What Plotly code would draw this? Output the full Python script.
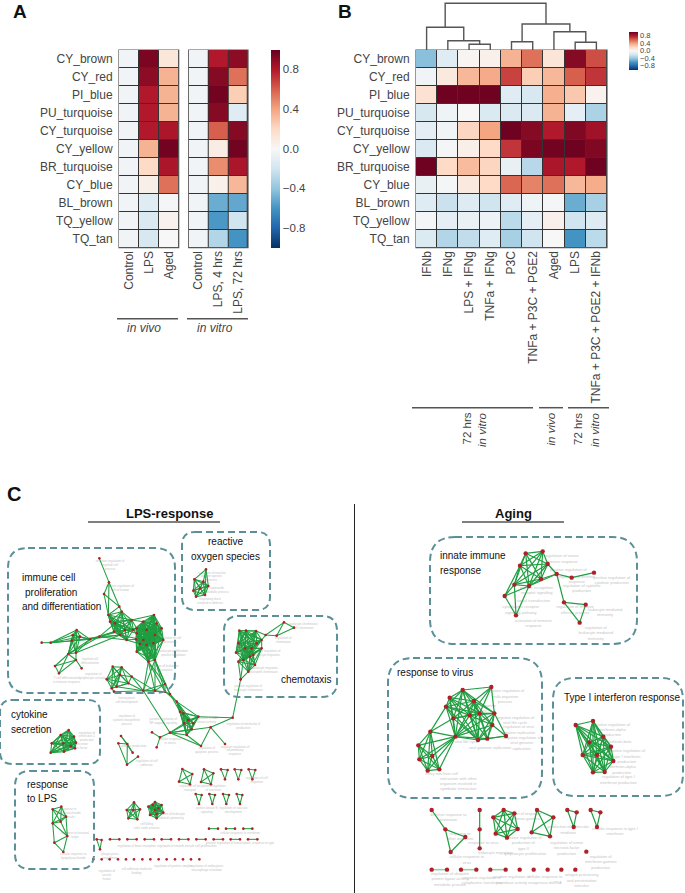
from itertools import combinations
import plotly.graph_objects as go

# ---------- heatmap data ----------
modules = ["CY_brown", "CY_red", "PI_blue", "PU_turquoise", "CY_turquoise", "CY_yellow",
           "BR_turquoise", "CY_blue", "BL_brown", "TQ_yellow", "TQ_tan"]
a_vivo_cols = ["Control", "LPS", "Aged"]
a_vivo = [[-.03, .95, .12], [-.03, .90, .35], [-.03, .80, .35], [-.03, .80, .35],
          [-.03, .80, .82], [-.03, .35, .97], [-.03, .20, .82], [-.03, .06, .55],
          [-.03, -.12, -.02], [-.03, -.15, .04], [-.03, -.17, 0]]
a_vitro_cols = ["Control", "LPS, 4 hrs", "LPS, 72 hrs"]
a_vitro = [[-.03, .80, .90], [-.03, .92, .55], [-.03, .97, .25], [-.03, .92, -.12],
           [-.03, .60, .92], [-.03, .08, .97], [-.03, .47, .82], [-.03, .05, .33],
           [-.03, -.50, -.52], [-.03, -.58, -.20], [-.03, -.30, -.60]]
b_cols = ["IFNb", "IFNg", "LPS + IFNg", "TNFa + IFNg", "P3C", "TNFa + P3C + PGE2", "Aged",
          "LPS", "TNFa + P3C + PGE2 + IFNb"]
b_vals = [[-.42, -.12, .02, .05, .35, .55, .13, .92, .65],
          [-.03, .10, .33, .38, .68, .25, .33, .60, .72],
          [.15, .98, .98, .98, -.12, -.17, .36, .27, .04],
          [-.17, -.05, 0, -.15, -.15, -.15, .35, -.10, -.32],
          [-.10, -.03, .22, .40, .98, .92, .80, .93, .85],
          [-.15, -.02, .06, .20, .72, .95, .97, .98, .93],
          [.98, .20, .32, .22, -.08, -.28, .82, .80, .98],
          [-.08, -.02, .10, .20, .58, .50, .55, .33, .37],
          [-.12, -.22, -.13, -.20, -.12, -.05, -.02, -.50, -.33],
          [-.02, -.10, -.07, -.06, -.27, -.10, .05, -.20, -.13],
          [-.14, -.30, -.25, -.12, -.33, -.20, 0, -.60, -.27]]
# dendrogram: children (leaf index, or 9+n for merge n) and merge height
dendro_a = [2, 1, 0, 4, 7, 6, 12, 11]
dendro_b = [3, 9, 10, 5, 8, 13, 14, 15]
dendro_h = [5.7, 9.3, 22.7, 8.3, 7.7, 18.3, 26.0, 46.7]

# ---------- network data (positions) ----------
lps_main = [(298,235),(327,307),(312,342),(358,380),(325,405),(365,395),(345,430),(342,455),(360,465),(375,450),
            (395,420),(380,480),(330,425),(400,450),(462,405),(430,425),(470,430),(410,445),(440,450),(465,465),
            (490,480),(410,460),(430,480),(460,490),(408,478),(420,492),(485,445),(440,495),(410,515),(445,545),
            (465,540),(125,488),(152,488),(230,450),(218,465),(215,482),(270,478),(298,470),(205,522),(228,518),
            (228,540),(165,558),(177,580),(245,565),(240,470),(430,632),(465,632),(495,612),(495,635),(510,642),
            (530,665),(540,695),(595,710),(552,730),(560,765),(575,748),(510,758),(480,772),(456,757),(470,802),
            (632,742),(603,798),(675,792),(698,713),(550,700),(565,720),(580,730),(338,560),(365,562),(320,598),
            (360,585),(385,610),(335,625),(350,620),(395,590),(342,635),(722,598)]
lps_main_cliques = [list(range(4, 14)), list(range(14, 31)), [33,34,35,36,38,39,44], [29,30,45,46,47,48],
                    [50,51,52,53,54,55,64,65,66], [67,68,69,70,71,72,73], [29,30,28,27,23,20]]
lps_main_edges = [(0,1),(1,2),(1,3),(2,3),(2,4),(3,4),(3,5),(1,4),(31,32),(32,33),(32,34),(32,35),(32,36),(32,44),(38,41),
                  (38,42),(40,41),(40,42),(41,42),(40,43),(39,40),(38,40),(36,37),(37,7),(37,8),(37,9),(37,11),(35,37),
                  (38,37),(39,8),(36,7),(36,8),(37,6),(9,17),(10,15),(11,24),(13,21),(8,22),(13,18),(10,17),(9,21),
                  (11,25),(13,15),(10,14),(29,48),(30,49),(48,49),(47,49),(49,50),(50,51),(48,50),(49,51),(45,56),(56,54),
                  (56,53),(56,55),(56,52),(56,57),(57,58),(57,59),(56,60),(54,61),(60,61),(60,62),(52,63),(60,63),
                  (61,56),(74,71),(74,46),(74,45),(71,45),(68,74),(70,74),(73,45),(75,45),(72,75),(63,76),(56,61)]
lps_chemo = [(852,427),(882,443),(830,467),(797,465),(768,453),(738,452),(718,452),(785,480),(770,490),(755,505),
             (735,505),(715,490),(708,518),(730,540),(750,530),(785,505),(765,555),(745,575),(715,545),(722,598),(760,525)]
lps_chemo_cliques = [[4,5,6,7,8,9,10,11,12,13,14],[9,10,13,14,15,16,17,18,20]]
lps_chemo_edges = [(0,1),(0,2),(1,2),(0,3),(2,3),(3,4),(3,7),(17,19),(18,19),(13,19),(16,17),(7,15)]
lps_ros = [(618,268),(583,298),(610,305),(625,318),(580,332),(615,345),(588,350),(600,325)]
lps_ros_cliques = [[1,2,3,4,5,6,7]]
lps_ros_edges = [(0,1),(0,2),(0,3),(0,5)]
# second crop row, offset by its own origin
lps_cyto = [(206,120),(182,135),(155,160),(222,140),(228,158),(190,160),(212,168),(152,188),(192,185),(225,175)]
lps_resp = [(158,358),(184,350),(198,380),(158,400),(182,395),(202,438),(163,458),(190,486)]
lps_resp_edges = [(2,5),(3,6),(4,5),(5,6),(6,7),(5,7),(3,5)]
lps_small = [(363,138),(355,160),(382,162),(398,188),(414,200),(381,224)]
lps_small_edges = [(0,2),(0,3),(1,2),(2,3),(1,5),(2,5),(4,5)]
lps_sq1 = [(547,237),(577,252),(537,275),(570,283)]
lps_sq2 = [(612,238),(640,250),(603,276),(633,283)]
lps_tri = [[(663,238),(683,240),(675,268)], [(704,238),(724,240),(715,268)], [(746,238),(766,240),(757,268)],
           [(587,312),(605,315),(597,342)], [(628,312),(645,315),(637,342)], [(669,312),(687,315),(679,342)],
           [(710,312),(727,315),(720,342)], [(290,448),(305,450),(300,478)]]
lps_penta = [(402,337),(420,358),(412,388),(385,385),(380,360),(400,360)]
lps_round = [(465,336),(485,345),(490,368),(470,385),(450,375),(445,350),(465,360),(475,355),(458,345),(470,372)]
lps_pair_a = [627,678,730]
lps_pair_a_y = 416
lps_pair_b = [330,382,434,485,537,589,641,692,744]
lps_pair_b_y = 448
lps_single = [280,305,329,354,378,402,427,451,476,500,525,549,573,598]
lps_single_y = 508

age_innate = [(512,190),(563,184),(495,227),(578,222),(558,267),(522,288),(478,284),(449,318),(483,376),(605,252),
              (650,263),(717,248),(627,337),(692,344),(674,398)]
age_innate_edges = [(7,6),(7,2),(7,5),(7,8),(6,8),(5,8),(3,9),(5,9),(4,9),(9,10),(10,11),(9,12),(12,13),(13,14),(12,14)]
age_innate_clique = [0,1,2,3,4,5,6]
age_virus = [(409,21),(323,30),(284,53),(357,63),(273,80),(418,100),(374,100),(344,106),(295,115),(412,135),
             (226,155),(301,170),(453,168),(369,180),(397,176),(190,196),(232,228),(193,238),(218,272),(253,268)]
age_virus_cliques = [[1,2,3,4,6,7,8,11,13],[0,1,3,5,6,7],[3,5,6,7,9,11,13,14],[5,9,12,13,14],[10,15,16,17,18,19,11]]
age_virus_edges = [(4,10),(8,10),(10,11),(2,8)]
age_type1 = [(662,135),(714,123),(703,187),(745,170),(768,200),(683,225),(726,225),(775,243),(714,277),(749,276)]
age_path = [(230,390),(271,448),(331,471),(287,516)]
age_path_edges = [(0,1),(1,2),(1,3),(2,3)]
age_line = [(374,390),(374,448),(374,505)]
age_hex = [(446,390),(478,400),(415,412),(488,447),(422,461),(456,473)]
age_sq = [(546,390),(595,412),(530,457),(585,469)]
age_tri = [[(637,390),(665,397),(656,441)], [(707,390),(736,397),(726,441)]]
age_pair = [230,318,406]
age_pair_w = [276,364,452]
age_single = [(694,515),(494,569),(536,569),(578,569),(619,569),(661,569)]
age_pair_y = 569

# grey term labels next to the nodes: x, y, text in each crop
grey_age_top = [(620,207,"regulation of innate<br>immune response"),(640,240,"positive regulation of"),
                (665,268,"regulation of defense<br>response"),(770,272,"positive regulation of<br>cytokine production"),
                (680,295,"regulation of cytokine<br>production"),(545,302,"pattern recognition<br>receptor signaling"),
                (535,332,"signal transduction"),(497,360,"cytoplasmic receptor<br>signaling pathway"),
                (535,400,"activation of immune<br>response"),(660,360,"regulation of immune<br>effector process"),
                (750,367,"leukocyte mediated<br>immunity"),(722,430,"regulation of<br>leukocyte mediated<br>immunity")]
grey_age_low = [(450,50,"negative regulation of<br>multi-organism<br>process"),(375,85,"defense response<br>to virus"),
                (480,122,"negative regulation of<br>viral life cycle"),(490,150,"regulation of viral<br>genome replication"),
                (500,190,"negative regulation of<br>viral genome<br>replication"),(405,205,"viral genome replication"),
                (335,185,"viral life cycle"),(260,283,"entry into host cell"),
                (310,312,"interaction with other<br>organism involved in<br>symbiotic interaction"),
                (770,150,"positive regulation of<br>interferon-alpha<br>production"),(790,185,"interferon-beta"),
                (815,230,"positive regulation of<br>type I interferon<br>production"),(800,270,"interferon-alpha<br>production"),
                (790,300,"regulation of type I<br>interferon production"),(280,412,"defense response to<br>protozoan"),
                (315,470,"response to<br>other organism"),(385,488,"response to virus"),(335,540,"cellular response to<br>virus"),
                (420,520,"leukocyte migration"),(500,410,"regulation of response<br>to interferon-gamma"),
                (635,505,"regulation of tumor<br>necrosis factor<br>production"),(505,490,"positive regulation of<br>production of<br>type II"),
                (510,523,"lymphocyte proliferation"),(780,455,"cellular response to type I<br>interferon"),
                (640,450,"production of molecular<br>mediator"),(737,547,"regulation of<br>interferon-gamma<br>production"),
                (285,598,"regulation of ubiquitin<br>protein ligase activity<br>metabolic process"),(380,602,"negative regulation of<br>cytoplasmic translation"),
                (470,600,"positive regulation of<br>peptidase activity"),(570,600,"cellular response to<br>exogenous dsRNA"),
                (680,602,"antigen processing<br>and presentation<br>stimulus")]
grey_lps = [(330,255,"negative regulation of<br>myeloid cell<br>process"),(360,325,"positive regulation of<br>cell activation"),
            (635,290,"regulation of reactive<br>oxygen species<br>process"),(650,330,"superoxide<br>metabolic process"),
            (630,365,"respiratory burst<br>involved in defense"),(910,440,"leukocyte chemotaxis<br>cell chemotaxis"),
            (850,480,"regulation of<br>chemotaxis"),(800,520,"positive regulation of<br>leukocyte migration"),
            (790,570,"granulocyte migration<br>neutrophil chemotaxis"),(745,625,"positive regulation of<br>leukocyte chemotaxis"),
            (270,545,"myeloid cell<br>differentiation"),(280,590,"regulation of<br>lymphocyte activation"),
            (200,600,"T cell differentiation<br>in immune response"),(510,480,"regulation of cell<br>activation"),
            (520,520,"leukocyte proliferation<br>positive regulation"),(490,565,"regulation of leukocyte<br>differentiation"),
            (380,660,"hemopoiesis<br>cell development"),(380,720,"regulation of<br>cytokine biosynthetic<br>process"),
            (490,725,"positive regulation of<br>NF-kappaB signaling"),(620,720,"regulation of MAP<br>kinase activity"),
            (730,740,"regulation of interleukin-6<br>production"),(510,785,"cellular response<br>to stress"),
            (620,810,"regulation of<br>apoptotic process"),(705,812,"negative regulation of<br>inflammatory<br>response"),
            (400,800,"cytokine production"),(440,850,"regulation of cell<br>adhesion"),(260,770,"regulation of<br>interleukin-1<br>production"),
            (220,800,"interleukin-6 secretion<br>tumor necrosis factor"),(205,1000,"response to<br>lipopolysaccharide<br>molecule"),
            (225,1065,"response to bacterial<br>origin"),(220,1130,"cellular response to<br>lipopolysaccharide"),
            (570,925,"regulation of ion<br>transport"),(640,925,"positive regulation<br>of secretion"),
            (770,900,"regulation of cell<br>migration"),(620,990,"protein kinase B<br>signaling"),
            (700,990,"regulation of vascular<br>development"),(510,1010,"regulation of leukocyte<br>mediated cytotoxicity"),
            (440,1040,"cell killing<br>nitric oxide process"),(720,1060,"cellular response to interferon"),
            (720,1090,"positive regulation of transcription, response to type"),(560,1098,"regulation of smooth muscle cell proliferation"),
            (410,1098,"regulation of bone resorption"),(330,1130,"phagocytosis<br>engulfment"),(320,1185,"regulation of<br>vesicle<br>fusion"),
            (520,1160,"regulation of protein complex"),(410,1175,"cell adhesion molecule<br>binding"),(620,1165,"regulation of endocytosis<br>macrophage activation")]

# dashed outlines and captions
box_x0 = [8, 182, 224, 0, 15, 430, 388, 553]
box_x1 = [175, 270, 337, 100, 94, 637, 542, 683]
box_y0 = [548, 532, 616, 700, 771, 537, 658, 678]
box_y1 = [693, 610, 697, 764, 869, 644, 798, 796]
box_r = [20, 13, 15, 12, 15, 25, 25, 22]
captions = [(20,577,"immune cell"),(23,592,"proliferation"),(20,606.5,"and differentiation"),
            (279,679,"chemotaxis"),(9,714,"cytokine"),(9,729,"secretion"),(25,784,"response"),(25,798,"to LPS"),
            (438,555,"innate immune"),(438,570,"response"),(395,672,"response to virus"),(562,697,"Type I interferon response")]

RDBU = [[0, "#053061"], [.1, "#2166ac"], [.2, "#4393c3"], [.3, "#92c5de"], [.4, "#d1e5f0"], [.5, "#f7f7f7"],
        [.6, "#fddbc7"], [.7, "#f4a582"], [.8, "#d6604d"], [.9, "#b2182b"], [1, "#67001f"]]
W, H = 685, 893
TXT = "#444444"
FONT = "Liberation Sans"
GREEN = "#1f9e41"
NODE = "#b0202a"
TEAL = "#5b9098"

def dx(a, b):
    return [a / W, b / W]
def dy(top, bot):
    return [1 - bot / H, 1 - top / H]

fig = go.Figure()
shapes = []
annotations = []

def heat(z, cols, n, x0, x1, showlabels, colorbar=None):
    suffix = "" if n == 1 else str(n)
    fig.add_trace(go.Heatmap(z=z, x=cols, y=modules, zmin=-1, zmax=1, colorscale=RDBU, xgap=1, ygap=1,
                             showscale=colorbar is not None, colorbar=colorbar, xaxis="x" + suffix, yaxis="y" + suffix,
                             hoverinfo="skip"))
    fig.layout["xaxis" + suffix] = dict(domain=dx(x0, x1), anchor="y" + suffix, tickangle=-90, ticks="",
                                        tickfont=dict(size=12, color=TXT, family=FONT),
                                        showgrid=False, zeroline=False, fixedrange=True, showline=False)
    fig.layout["yaxis" + suffix] = dict(domain=dy(50, 247.7), anchor="x" + suffix, autorange="reversed",
                                        showticklabels=showlabels, ticks="outside" if showlabels else "", ticklen=3,
                                        tickcolor="rgba(0,0,0,0)", tickfont=dict(size=12, color=TXT, family=FONT),
                                        showgrid=False, zeroline=False, fixedrange=True, showline=False)
    shapes.append(dict(type="rect", xref="x%s domain" % suffix, yref="y%s domain" % suffix, x0=0, x1=1, y0=0, y1=1,
                       layer="below", fillcolor="#333333", line=dict(color="#555555", width=1.2)))

heat(a_vivo, a_vivo_cols, 1, 119, 178.7, True)
heat(a_vitro, a_vitro_cols, 2, 188.7, 248, False,
     dict(x=271 / W, xanchor="left", xpad=0, y=1 - 148.5 / H, yanchor="middle", yref="paper", len=198, lenmode="pixels",
          ypad=0, thickness=9, outlinewidth=0, tickvals=[-.8, -.4, 0, .4, .8], ticks="", tickformat=".1f",
          tickfont=dict(size=11.5, color=TXT, family=FONT)))
heat(b_vals, b_cols, 3, 416, 607, True,
     dict(x=629 / W, xanchor="left", xpad=0, y=1 - 50.5 / H, yanchor="middle", yref="paper", len=38, lenmode="pixels",
          ypad=0, thickness=9, outlinewidth=0, tickvals=[-.8, -.4, 0, .4, .8], ticks="", tickformat=".1f",
          tickfont=dict(size=7.5, color=TXT, family=FONT)))

# dendrogram axis shares the column positions of panel B
pos = {i: (float(i), 0.0) for i in range(9)}
dxs, dys = [], []
for k, (a, b, h) in enumerate(zip(dendro_a, dendro_b, dendro_h)):
    xa, ha = pos[a]
    xb, hb = pos[b]
    dxs += [xa, xa, xb, xb, None]
    dys += [ha, h, h, hb, None]
    pos[9 + k] = ((xa + xb) / 2, h)
fig.add_trace(go.Scatter(x=dxs, y=dys, mode="lines", line=dict(color="#555555", width=1.4), xaxis="x4", yaxis="y4",
                         hoverinfo="skip", showlegend=False))
fig.layout.xaxis4 = dict(domain=dx(416, 607), range=[-.5, 8.5], visible=False, fixedrange=True, anchor="y4")
fig.layout.yaxis4 = dict(domain=dy(0, 50), range=[0, 50], visible=False, fixedrange=True, anchor="x4")

# page overlay axis
fig.layout.xaxis5 = dict(domain=[0, 1], range=[0, W], visible=False, fixedrange=True, anchor="y5")
fig.layout.yaxis5 = dict(domain=[0, 1], range=[H, 0], visible=False, fixedrange=True, anchor="x5")

def place(pts, ox, oy):
    return [(ox + p[0] / 3, oy + p[1] / 3) for p in pts]

edge_thin, edge_age, edge_pair, node_small, node_big = ([], []), ([], []), ([], []), ([], []), ([], [])

def add_net(pts, ox, oy, cliques=(), edges=(), nodes=node_small, store=edge_thin):
    p = place(pts, ox, oy)
    pairs = set(tuple(sorted(e)) for e in edges)
    for c in cliques:
        pairs |= set(combinations(sorted(c), 2))
    for i, j in sorted(pairs):
        store[0].extend([p[i][0], p[j][0], None])
        store[1].extend([p[i][1], p[j][1], None])
    nodes[0].extend(q[0] for q in p)
    nodes[1].extend(q[1] for q in p)

def full(pts):
    return [list(range(len(pts)))]

LX, LY, L2Y = 0, 480, 690
add_net(lps_main, LX, LY, lps_main_cliques, lps_main_edges)
add_net(lps_chemo, LX, LY, lps_chemo_cliques, lps_chemo_edges)
add_net(lps_ros, LX, LY, lps_ros_cliques, lps_ros_edges)
add_net(lps_cyto, LX, L2Y, full(lps_cyto))
add_net(lps_resp, LX, L2Y, [[0, 1, 2, 3, 4]], lps_resp_edges)
add_net(lps_small, LX, L2Y, (), lps_small_edges)
for sq in (lps_sq1, lps_sq2, lps_penta, lps_round):
    add_net(sq, LX, L2Y, full(sq))
for t in lps_tri:
    add_net(t, LX, L2Y, full(t))
for x in lps_pair_a:
    add_net([(x, lps_pair_a_y), (x + 27, lps_pair_a_y)], LX, L2Y, (), [(0, 1)])
for x in lps_pair_b:
    add_net([(x, lps_pair_b_y), (x + 28, lps_pair_b_y)], LX, L2Y, (), [(0, 1)])
add_net([(x, lps_single_y) for x in lps_single], LX, L2Y)

AX, AY, A2Y = 355, 490, 680
add_net(age_innate, AX, AY, [age_innate_clique], age_innate_edges, node_big, edge_age)
add_net(age_virus, AX, A2Y, age_virus_cliques, age_virus_edges, node_big, edge_age)
add_net(age_type1, AX, A2Y, full(age_type1), (), node_big, edge_age)
add_net(age_path, AX, A2Y, (), age_path_edges, node_big, edge_age)
add_net(age_line, AX, A2Y, (), [(0, 1), (1, 2)], node_big, edge_age)
for g in (age_hex, age_sq):
    add_net(g, AX, A2Y, full(g), (), node_big, edge_age)
for t in age_tri:
    add_net(t, AX, A2Y, full(t), (), node_big, edge_age)
for a, b in zip(age_pair, age_pair_w):
    add_net([(a, age_pair_y), (b, age_pair_y)], AX, A2Y, (), [(0, 1)], node_big, edge_pair)
add_net(age_single, AX, A2Y, (), (), node_big)

for grey, ox, oy, size in ((grey_lps, LX, LY, 3), (grey_age_top, AX, AY, 4), (grey_age_low, AX, A2Y, 4)):
    pts = place(grey, ox, oy)
    fig.add_trace(go.Scatter(x=[p[0] for p in pts], y=[p[1] for p in pts], text=[g[2] for g in grey], mode="text",
                             textposition="middle center", textfont=dict(size=size, color="#c4c4c4", family=FONT),
                             xaxis="x5", yaxis="y5", hoverinfo="skip", showlegend=False))
for store, color, width in ((edge_thin, GREEN, 1.05), (edge_age, GREEN, 1.2), (edge_pair, "#8fd3a0", 1.5)):
    fig.add_trace(go.Scatter(x=store[0], y=store[1], mode="lines", line=dict(color=color, width=width), xaxis="x5",
                             yaxis="y5", hoverinfo="skip", showlegend=False))
fig.add_trace(go.Scatter(x=node_small[0], y=node_small[1], mode="markers", marker=dict(color=NODE, size=2.6), xaxis="x5",
                         yaxis="y5", hoverinfo="skip", showlegend=False))
fig.add_trace(go.Scatter(x=node_big[0], y=node_big[1], mode="markers", marker=dict(color=NODE, size=4.4), xaxis="x5",
                         yaxis="y5", hoverinfo="skip", showlegend=False))

def line(x0, y0, x1, y1, color="#555555", width=1.5):
    shapes.append(dict(type="line", xref="x5", yref="y5", x0=x0, y0=y0, x1=x1, y1=y1, line=dict(color=color, width=width)))

def note(x, y, text, size=12, color=TXT, xanchor="center", yanchor="middle", angle=0, bold=False, italic=False):
    if bold:
        text = "<b>%s</b>" % text
    if italic:
        text = "<i>%s</i>" % text
    annotations.append(dict(xref="x5", yref="y5", x=x, y=y, text=text, showarrow=False, xanchor=xanchor, yanchor=yanchor,
                            textangle=angle, font=dict(size=size, color=color, family=FONT)))

# group brackets
for seg in [(117, 178, 318.7), (187, 248, 318.7), (412, 533, 407.7), (539, 563, 407.7), (568, 609, 407.7)]:
    line(seg[0], seg[2], seg[1], seg[2])
note(144, 328, "in vivo", 12, italic=True)
note(215, 328, "in vitro", 12, italic=True)
note(466.5, 411, "72 hrs", 11.5, yanchor="top", angle=-90)
note(482, 411, "in vitro", 11.5, yanchor="top", angle=-90, italic=True)
note(550, 411, "in vivo", 11.5, yanchor="top", angle=-90, italic=True)
note(578, 411, "72 hrs", 11.5, yanchor="top", angle=-90)
note(595, 411, "in vitro", 11.5, yanchor="top", angle=-90, italic=True)

# panel letters and section heads
note(20, 11, "A", 19, "#111111", bold=True)
note(344.5, 11, "B", 19, "#111111", bold=True)
note(14, 493.5, "C", 20, "#111111", bold=True)
note(169, 513, "LPS-response", 13, "#111111", bold=True)
note(513, 513, "Aging", 13, "#111111", bold=True)
line(88, 522, 220, 522)
line(462, 522, 564, 522)
line(354.5, 504, 354.5, 893, "#222222", 1)

for x0, x1, y0, y1, r in zip(box_x0, box_x1, box_y0, box_y1, box_r):
    path = (f"M {x0 + r} {y0} L {x1 - r} {y0} Q {x1} {y0} {x1} {y0 + r} L {x1} {y1 - r} Q {x1} {y1} {x1 - r} {y1} "
            f"L {x0 + r} {y1} Q {x0} {y1} {x0} {y1 - r} L {x0} {y0 + r} Q {x0} {y0} {x0 + r} {y0} Z")
    shapes.append(dict(type="path", xref="x5", yref="y5", path=path, line=dict(color=TEAL, width=2, dash="7px,4px")))

for x, y, t in captions:
    note(x, y, t, 10, "#111111", xanchor="left")
note(225, 541, "reactive", 10, "#111111")
note(225, 556, "oxygen species", 10, "#111111")

fig.update_layout(width=W, height=H, margin=dict(l=0, r=0, t=0, b=0), paper_bgcolor="white",
                  plot_bgcolor="rgba(0,0,0,0)", showlegend=False, shapes=shapes, annotations=annotations,
                  font=dict(family=FONT))
fig.write_html("out.html", config=dict(displayModeBar=False),
               post_script="document.body.style.margin='0';document.body.style.overflow='hidden';")
